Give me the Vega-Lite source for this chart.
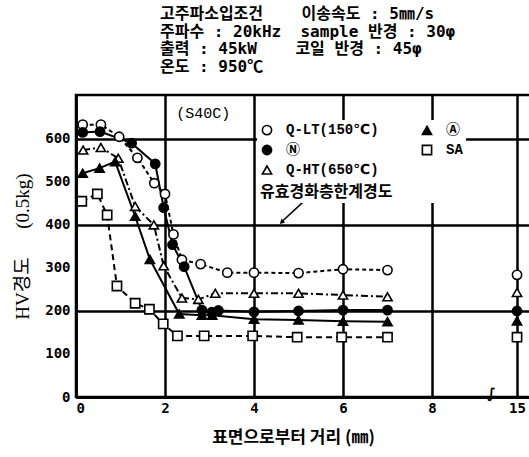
{
  "$schema": "https://vega.github.io/schema/vega-lite/v6.json",
  "autosize": "none",
  "width": 455,
  "height": 302,
  "padding": {"left": 76, "top": 95, "right": 0, "bottom": 60},
  "background": "white",
  "title": {
    "text": [
      "고주파소입조건\u00a0\u00a0\u00a0\u00a0이송속도 : 5㎜/s",
      "주파수 : 20kHz\u00a0\u00a0sample 반경 : 30φ",
      "출력 : 45kW\u00a0\u00a0\u00a0\u00a0코일 반경 : 45φ",
      "온도 : 950℃"
    ],
    "anchor": "start",
    "frame": "group",
    "dx": 84,
    "offset": 20,
    "font": "DejaVu Sans Mono, Noto Sans CJK KR",
    "fontSize": 16,
    "fontWeight": "bold",
    "lineHeight": 17.7,
    "color": "black"
  },
  "datasets": {
    "pts": [
      {"s": "Q-LT(150℃)", "x": 0.15, "y": 633}, {"s": "Q-LT(150℃)", "x": 0.56, "y": 633},
      {"s": "Q-LT(150℃)", "x": 0.97, "y": 605}, {"s": "Q-LT(150℃)", "x": 1.38, "y": 556},
      {"s": "Q-LT(150℃)", "x": 1.76, "y": 497}, {"s": "Q-LT(150℃)", "x": 2.0, "y": 472},
      {"s": "Q-LT(150℃)", "x": 2.19, "y": 378}, {"s": "Q-LT(150℃)", "x": 2.38, "y": 319},
      {"s": "Q-LT(150℃)", "x": 2.8, "y": 309}, {"s": "Q-LT(150℃)", "x": 3.4, "y": 289},
      {"s": "Q-LT(150℃)", "x": 4.0, "y": 289}, {"s": "Q-LT(150℃)", "x": 5.0, "y": 288},
      {"s": "Q-LT(150℃)", "x": 6.0, "y": 297}, {"s": "Q-LT(150℃)", "x": 7.0, "y": 295},
      {"s": "Q-LT(150℃)", "x": 15, "y": 284},
      {"s": "Ⓝ", "x": 0.15, "y": 615}, {"s": "Ⓝ", "x": 0.54, "y": 617},
      {"s": "Ⓝ", "x": 1.25, "y": 590}, {"s": "Ⓝ", "x": 1.78, "y": 542},
      {"s": "Ⓝ", "x": 1.97, "y": 440}, {"s": "Ⓝ", "x": 2.17, "y": 354},
      {"s": "Ⓝ", "x": 2.43, "y": 303}, {"s": "Ⓝ", "x": 2.83, "y": 202},
      {"s": "Ⓝ", "x": 3.05, "y": 197}, {"s": "Ⓝ", "x": 3.2, "y": 201},
      {"s": "Ⓝ", "x": 4.0, "y": 198}, {"s": "Ⓝ", "x": 5.0, "y": 200},
      {"s": "Ⓝ", "x": 6.0, "y": 202}, {"s": "Ⓝ", "x": 7.0, "y": 202},
      {"s": "Ⓝ", "x": 15, "y": 200},
      {"s": "Q-HT(650℃)", "x": 0.16, "y": 574}, {"s": "Q-HT(650℃)", "x": 0.56, "y": 580},
      {"s": "Q-HT(650℃)", "x": 0.95, "y": 555}, {"s": "Q-HT(650℃)", "x": 1.33, "y": 443},
      {"s": "Q-HT(650℃)", "x": 1.75, "y": 400}, {"s": "Q-HT(650℃)", "x": 1.97, "y": 305},
      {"s": "Q-HT(650℃)", "x": 2.38, "y": 230}, {"s": "Q-HT(650℃)", "x": 2.75, "y": 227},
      {"s": "Q-HT(650℃)", "x": 3.13, "y": 241}, {"s": "Q-HT(650℃)", "x": 4.0, "y": 241},
      {"s": "Q-HT(650℃)", "x": 5.0, "y": 241}, {"s": "Q-HT(650℃)", "x": 6.0, "y": 237},
      {"s": "Q-HT(650℃)", "x": 7.0, "y": 233}, {"s": "Q-HT(650℃)", "x": 15, "y": 243},
      {"s": "Ⓐ", "x": 0.15, "y": 520}, {"s": "Ⓐ", "x": 0.53, "y": 532},
      {"s": "Ⓐ", "x": 0.88, "y": 547}, {"s": "Ⓐ", "x": 1.33, "y": 420},
      {"s": "Ⓐ", "x": 1.66, "y": 320}, {"s": "Ⓐ", "x": 2.32, "y": 193},
      {"s": "Ⓐ", "x": 2.83, "y": 190}, {"s": "Ⓐ", "x": 3.06, "y": 190},
      {"s": "Ⓐ", "x": 4.0, "y": 181}, {"s": "Ⓐ", "x": 5.0, "y": 179},
      {"s": "Ⓐ", "x": 6.0, "y": 176}, {"s": "Ⓐ", "x": 7.0, "y": 175},
      {"s": "Ⓐ", "x": 15, "y": 177},
      {"s": "SA", "x": 0.13, "y": 455}, {"s": "SA", "x": 0.48, "y": 472},
      {"s": "SA", "x": 0.7, "y": 423}, {"s": "SA", "x": 0.92, "y": 258},
      {"s": "SA", "x": 1.33, "y": 218}, {"s": "SA", "x": 1.65, "y": 204},
      {"s": "SA", "x": 1.96, "y": 170}, {"s": "SA", "x": 2.28, "y": 142},
      {"s": "SA", "x": 2.88, "y": 142}, {"s": "SA", "x": 3.97, "y": 142},
      {"s": "SA", "x": 4.97, "y": 139}, {"s": "SA", "x": 5.97, "y": 139},
      {"s": "SA", "x": 7.0, "y": 139}, {"s": "SA", "x": 15, "y": 139}
    ],
    "ann": [
      {"x": 2.86, "y": 660, "label": "(S40C)"}
    ],
    "brk": [
      {"x": 12.9, "y": 0, "label": "∫"}
    ],
    "arrow": [
      {"x": 5.1, "y": 453, "x2": 4.63, "y2": 408}
    ],
    "head": [
      {"x": 4.62, "y": 406}
    ]
  },
  "encoding": {
    "x": {
      "field": "x", "type": "quantitative",
      "scale": {"domain": [0, 8, 16.15], "range": [0, 356, 455], "nice": false, "zero": false},
      "axis": {
        "values": [0, 2, 4, 6, 8, 15],
        "title": "표면으로부터 거리 (㎜)",
        "titleFont": "Noto Sans CJK KR",
        "titleFontSize": 17,
        "titleFontWeight": "bold",
        "titlePadding": 14,
        "titleX": 217,
        "labelPadding": 4
      }
    },
    "y": {
      "field": "y", "type": "quantitative",
      "scale": {"domain": [0, 702], "nice": false},
      "axis": {
        "values": [0, 100, 200, 300, 400, 500, 600],
        "title": "HV경도\u00a0\u00a0\u00a0\u00a0\u00a0\u00a0(0.5kg)",
        "titleFont": "Liberation Serif, Noto Sans CJK KR",
        "titleFontSize": 19,
        "titleFontWeight": "normal",
        "titlePadding": 12,
        "labelPadding": 6,
        "gridOpacity": {"condition": {"test": "datum.value % 200 === 0", "value": 1}, "value": 0}
      }
    }
  },
  "layer": [
    {
      "data": {"name": "pts"},
      "transform": [{"filter": "datum.x <= 8 && datum.s === 'Q-LT(150℃)'"}],
      "mark": {"type": "line", "color": "black", "strokeWidth": 2, "strokeDash": [4, 3]},
      "encoding": {}
    },
    {
      "data": {"name": "pts"},
      "transform": [{"filter": "datum.x <= 8 && datum.s === 'Ⓝ'"}],
      "mark": {"type": "line", "color": "black", "strokeWidth": 2},
      "encoding": {}
    },
    {
      "data": {"name": "pts"},
      "transform": [{"filter": "datum.x <= 8 && datum.s === 'Ⓐ'"}],
      "mark": {"type": "line", "color": "black", "strokeWidth": 2},
      "encoding": {}
    },
    {
      "data": {"name": "pts"},
      "transform": [{"filter": "datum.x <= 8 && datum.s === 'SA'"}],
      "mark": {"type": "line", "color": "black", "strokeWidth": 2, "strokeDash": [6, 4]},
      "encoding": {}
    },
    {
      "data": {"name": "pts"},
      "transform": [{"filter": "datum.x <= 8 && datum.s === 'Q-HT(650℃)'"}],
      "mark": {"type": "line", "color": "black", "strokeWidth": 2, "strokeDash": [7, 3, 2, 3]},
      "encoding": {}
    },
    {
      "data": {"name": "arrow"},
      "mark": {"type": "rule", "color": "black", "strokeWidth": 1.5},
      "encoding": {"x2": {"field": "x2"}, "y2": {"field": "y2"}}
    },
    {
      "data": {"name": "head"},
      "mark": {"type": "point", "shape": "triangle-up", "filled": true, "color": "black", "size": 30, "angle": 225, "opacity": 1},
      "encoding": {}
    },
    {
      "data": {"name": "pts"},
      "mark": {"type": "point", "filled": true, "strokeWidth": 1.6, "size": 85, "opacity": 1},
      "encoding": {
        "shape": {
          "field": "s", "type": "nominal",
          "scale": {
            "domain": ["Q-LT(150℃)", "Ⓝ", "Q-HT(650℃)", "Ⓐ", "SA"],
            "range": ["circle", "circle", "triangle-up", "triangle-up", "square"]
          },
          "legend": {
            "orient": "none", "legendX": 181, "legendY": 25, "columns": 2,
            "title": "유효경화층한계경도", "titleOrient": "bottom", "titleAnchor": "start"
          }
        },
        "fill": {
          "field": "s", "type": "nominal",
          "scale": {
            "domain": ["Q-LT(150℃)", "Ⓝ", "Q-HT(650℃)", "Ⓐ", "SA"],
            "range": ["white", "black", "white", "black", "white"]
          }
        },
        "stroke": {
          "field": "s", "type": "nominal",
          "scale": {
            "domain": ["Q-LT(150℃)", "Ⓝ", "Q-HT(650℃)", "Ⓐ", "SA"],
            "range": ["black", "black", "black", "black", "black"]
          }
        }
      }
    },
    {
      "data": {"name": "ann"},
      "mark": {"type": "text", "font": "Liberation Mono", "fontSize": 15, "color": "black"},
      "encoding": {"text": {"field": "label"}}
    },
    {
      "data": {"name": "brk"},
      "mark": {"type": "text", "font": "DejaVu Sans", "fontSize": 14, "fontWeight": "bold", "color": "black", "baseline": "middle", "dy": -3},
      "encoding": {"text": {"field": "label"}}
    }
  ],
  "config": {
    "view": {"stroke": "black", "strokeWidth": 2.5},
    "axis": {
      "domainColor": "black", "domainWidth": 2.5,
      "grid": true, "gridColor": "black", "gridWidth": 2.5, "gridOpacity": 1,
      "ticks": false,
      "labelColor": "black", "labelFont": "DejaVu Sans Mono", "labelFontWeight": "bold", "labelFontSize": 14,
      "titleColor": "black"
    },
    "legend": {
      "fillColor": "white", "padding": 3,
      "labelFont": "Liberation Mono, DejaVu Sans, Noto Sans CJK KR", "labelFontWeight": "bold", "labelFontSize": 14, "labelColor": "black",
      "labelOffset": 12, "rowPadding": 4, "columnPadding": 40,
      "symbolSize": 85, "symbolStrokeWidth": 1.6, "symbolOpacity": 1,
      "titleFont": "Noto Sans CJK KR", "titleFontSize": 16, "titleFontWeight": "bold", "titleColor": "black", "titlePadding": 7,
      "titleLimit": 300
    }
  }
}
